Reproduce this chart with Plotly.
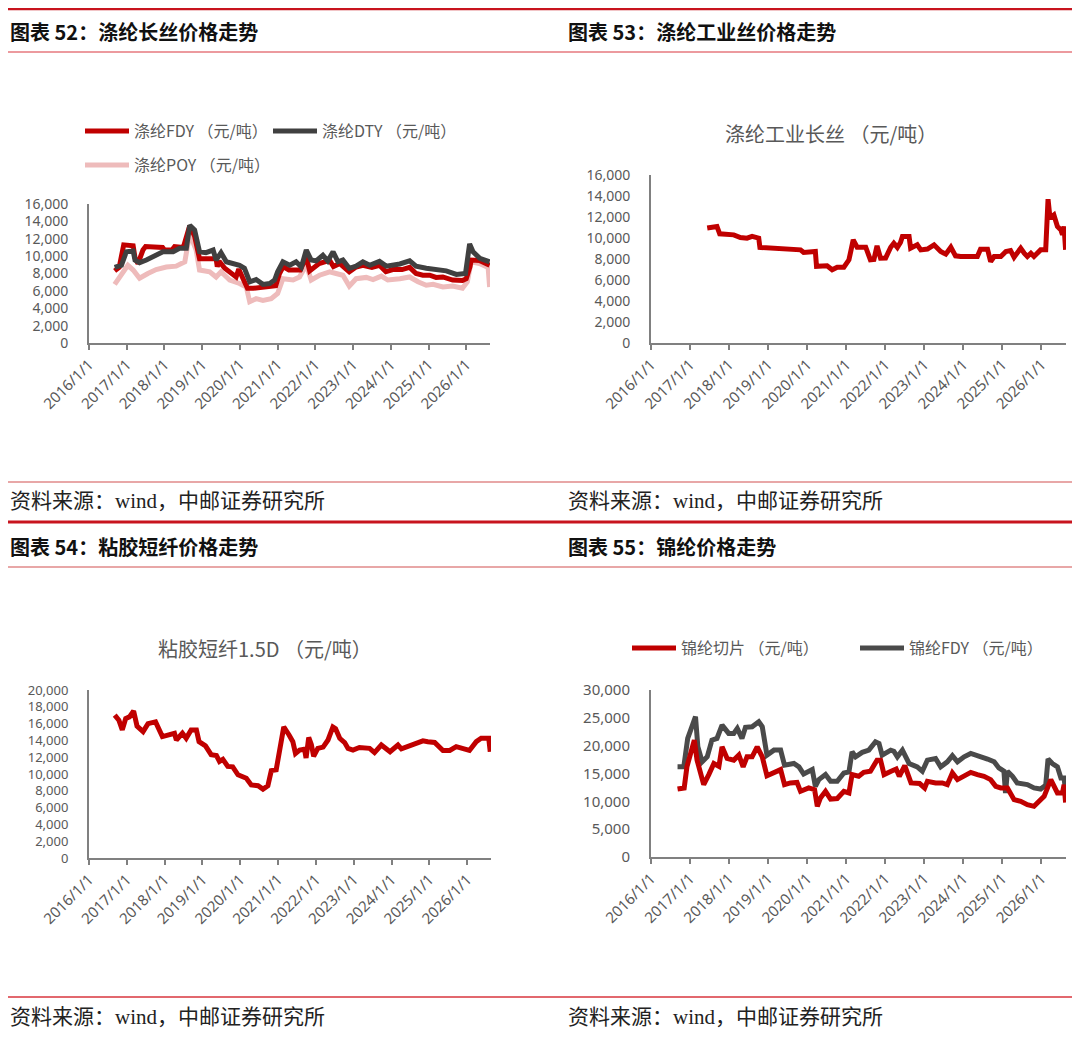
import plotly.graph_objects as go

# page has an 8px body margin, so the figure is 1064x1024 and coordinates are offset by 8
W, H, OFF = 1064, 1024, 8

# ---- data (decimal year, price in 元/吨) ----
tick_years = list(range(2016, 2027))
tick_text = [f"{y}/1/1" for y in tick_years]

# 图表52: 涤纶长丝
fdy_t = [2016.68, 2016.8, 2016.92, 2017.17, 2017.22, 2017.3, 2017.43, 2017.5, 2017.95, 2018.0, 2018.2, 2018.27,
         2018.5, 2018.67, 2018.8, 2018.93, 2019.37, 2019.4, 2019.45, 2019.6, 2019.9, 2019.97, 2020.2, 2020.35,
         2020.95, 2021.05, 2021.15, 2021.3, 2021.6, 2021.68, 2021.76, 2021.85, 2022.1, 2022.38, 2022.48, 2022.65,
         2022.8, 2022.9, 2023.08, 2023.26, 2023.5, 2023.7, 2023.87, 2024.05, 2024.3, 2024.5, 2024.67, 2024.85,
         2025.03, 2025.2, 2025.38, 2025.64, 2025.9, 2026.0, 2026.1, 2026.13, 2026.35, 2026.52, 2026.62]
fdy_v = [8300, 8700, 11300, 11200, 9800, 9150, 10700, 11100, 11000, 10700, 10700, 11100,
         11000, 13500, 12300, 9700, 9700, 8800, 9400, 8600, 7600, 8500, 6300, 6300,
         6600, 8000, 8800, 8400, 8400, 9150, 9900, 8300, 9150, 9500, 8800, 9150,
         8600, 8200, 8750, 8950, 8700, 8950, 8200, 8450, 8450, 8700, 8000, 7800,
         7800, 7550, 7600, 7250, 7200, 7400, 8800, 9550, 9500, 9150, 8950]

dty_t = [2016.68, 2016.86, 2016.99, 2017.17, 2017.22, 2017.34, 2017.52, 2017.7, 2017.96, 2018.23, 2018.4, 2018.58,
         2018.67, 2018.8, 2018.93, 2019.1, 2019.29, 2019.37, 2019.5, 2019.64, 2019.82, 2019.99, 2020.12, 2020.26,
         2020.43, 2020.61, 2020.79, 2020.92, 2021.0, 2021.14, 2021.32, 2021.49, 2021.63, 2021.76, 2021.89, 2022.02,
         2022.2, 2022.33, 2022.47, 2022.6, 2022.73, 2022.9, 2023.08, 2023.26, 2023.44, 2023.7, 2023.88, 2024.24,
         2024.5, 2024.67, 2024.94, 2025.2, 2025.47, 2025.74, 2025.98, 2026.09, 2026.18, 2026.36, 2026.52, 2026.62]
dty_v = [8700, 8950, 10500, 10600, 9550, 9250, 9550, 10000, 10500, 10500, 10900, 10900,
         13550, 13000, 10500, 10400, 10700, 9550, 10400, 9350, 9150, 8950, 8600, 7050,
         7300, 6750, 6850, 7250, 8200, 9350, 8950, 9350, 8750, 10700, 9550, 9450,
         10100, 9450, 10500, 9350, 9550, 8600, 8850, 9350, 8950, 9400, 8850, 9100,
         9450, 8850, 8600, 8400, 8300, 7900, 8000, 11400, 10500, 9750, 9550, 9350]

poy_t = [2016.68, 2016.86, 2017.03, 2017.17, 2017.34, 2017.56, 2017.78, 2018.05, 2018.31, 2018.54, 2018.67, 2018.84,
         2018.93, 2019.2, 2019.37, 2019.5, 2019.73, 2019.99, 2020.17, 2020.26, 2020.43, 2020.61, 2020.83, 2021.0,
         2021.14, 2021.41, 2021.58, 2021.76, 2021.89, 2022.11, 2022.38, 2022.55, 2022.73, 2022.9, 2023.08, 2023.35,
         2023.53, 2023.75, 2023.92, 2024.24, 2024.5, 2024.72, 2024.94, 2025.12, 2025.38, 2025.64, 2025.9, 2026.03,
         2026.13, 2026.35, 2026.52, 2026.58, 2026.62]
poy_v = [6750, 7800, 8950, 8400, 7450, 8000, 8450, 8750, 8850, 9350, 12600, 10700,
         8400, 8200, 7600, 8200, 7250, 6850, 6450, 4750, 5100, 4900, 5100, 5700,
         7400, 7250, 7600, 9000, 7250, 7800, 8200, 8000, 7800, 6550, 7400, 7550,
         7300, 7700, 7250, 7400, 7600, 7050, 6650, 6750, 6450, 6550, 6300, 7050,
         9350, 9150, 8750, 8700, 6450]

# 图表53: 涤纶工业长丝
ind_t = [2017.44, 2017.69, 2017.76, 2018.12, 2018.29, 2018.46, 2018.59, 2018.76, 2018.79, 2019.15, 2019.66, 2019.83,
         2019.91, 2020.21, 2020.24, 2020.51, 2020.64, 2020.77, 2020.94, 2021.07, 2021.18, 2021.28, 2021.5, 2021.62,
         2021.71, 2021.79, 2021.88, 2022.01, 2022.14, 2022.22, 2022.31, 2022.39, 2022.44, 2022.61, 2022.65, 2022.82,
         2022.91, 2023.08, 2023.25, 2023.42, 2023.55, 2023.68, 2023.8, 2023.93, 2024.36, 2024.44, 2024.62, 2024.7,
         2024.79, 2024.96, 2025.09, 2025.21, 2025.3, 2025.47, 2025.56, 2025.64, 2025.73, 2025.81, 2025.98, 2026.11,
         2026.17, 2026.22, 2026.32, 2026.41, 2026.5, 2026.54, 2026.58, 2026.62]
ind_v = [10950, 11100, 10400, 10300, 10050, 9980, 10150, 9980, 9100, 9030, 8930, 8870,
         8620, 8710, 7300, 7350, 6970, 7220, 7220, 7920, 9820, 9120, 9120, 7920,
         7950, 9250, 8080, 8100, 9120, 9500, 9100, 9570, 10150, 10150, 9030, 9350,
         8870, 8950, 9350, 8710, 8460, 9120, 8300, 8240, 8240, 8930, 8930, 7760,
         8240, 8240, 8710, 8810, 8170, 9030, 8550, 8240, 8550, 8240, 8870, 8870,
         13700, 11900, 12200, 11100, 10770, 10300, 11100, 8870]

# 图表54: 粘胶短纤1.5D
vsf_t = [2016.68, 2016.79, 2016.88, 2016.97, 2017.07, 2017.18, 2017.27, 2017.43, 2017.56, 2017.76, 2017.94, 2018.13,
         2018.26, 2018.31, 2018.47, 2018.57, 2018.7, 2018.84, 2018.91, 2019.08, 2019.23, 2019.37, 2019.45, 2019.54,
         2019.67, 2019.8, 2019.94, 2020.16, 2020.29, 2020.47, 2020.6, 2020.73, 2020.82, 2020.95, 2021.06, 2021.15,
         2021.29, 2021.39, 2021.46, 2021.57, 2021.7, 2021.74, 2021.81, 2021.88, 2021.94, 2022.05, 2022.19, 2022.32,
         2022.45, 2022.52, 2022.63, 2022.76, 2022.85, 2022.98, 2023.15, 2023.42, 2023.55, 2023.73, 2023.96, 2024.17,
         2024.26, 2024.43, 2024.61, 2024.83, 2024.96, 2025.14, 2025.36, 2025.54, 2025.71, 2025.98, 2026.06, 2026.24,
         2026.37, 2026.57, 2026.61]
vsf_v = [17000, 16400, 15250, 16600, 16800, 17500, 15700, 15050, 16000, 16200, 14450, 14650,
         14850, 14050, 14850, 14250, 15250, 15250, 13850, 13350, 12300, 12200, 11500, 11750,
         10900, 10850, 9900, 9500, 8700, 8600, 8200, 8600, 10400, 10500, 13650, 15600,
         14650, 13850, 12450, 12850, 12950, 11900, 14350, 13500, 12100, 13050, 13200, 14050,
         15600, 15400, 14250, 13750, 13050, 12850, 13150, 13050, 12550, 13450, 12650, 13450,
         13000, 13250, 13550, 13950, 13850, 13750, 12800, 12800, 13250, 12800, 12800, 13850,
         14250, 14250, 12650]

# 图表55: 锦纶
chip_t = [2016.68, 2016.85, 2016.92, 2017.03, 2017.11, 2017.18, 2017.35, 2017.48, 2017.61, 2017.74, 2017.82, 2017.95,
          2018.12, 2018.25, 2018.36, 2018.46, 2018.59, 2018.72, 2018.85, 2018.97, 2019.15, 2019.32, 2019.42, 2019.57,
          2019.74, 2019.83, 2020.04, 2020.19, 2020.26, 2020.34, 2020.47, 2020.6, 2020.77, 2020.94, 2021.07, 2021.15,
          2021.32, 2021.45, 2021.62, 2021.79, 2021.88, 2021.97, 2022.15, 2022.28, 2022.36, 2022.5, 2022.66, 2022.88,
          2023.01, 2023.08, 2023.29, 2023.46, 2023.59, 2023.72, 2023.85, 2024.02, 2024.19, 2024.36, 2024.53, 2024.7,
          2024.83, 2024.96, 2025.13, 2025.3, 2025.47, 2025.64, 2025.81, 2025.94, 2026.07, 2026.24, 2026.41, 2026.54,
          2026.58, 2026.62]
chip_v = [12200, 12400, 16200, 18900, 21000, 17400, 13000, 14800, 16800, 16300, 19800, 17700,
          17400, 18300, 16200, 18000, 18000, 19800, 18000, 14600, 15100, 15700, 13000, 13300,
          13400, 11800, 12400, 12100, 9100, 10600, 11800, 10400, 10500, 11800, 11500, 14800,
          14500, 15200, 15400, 17400, 17400, 14800, 15400, 15800, 14500, 16400, 13300, 13200,
          12400, 13600, 13300, 13300, 13000, 15100, 13900, 14500, 15200, 14800, 14500, 13900,
          12700, 12400, 12400, 10300, 10000, 9400, 9100, 10000, 10900, 13900, 11500, 11500,
          13000, 9800]

nfdy_t = [2016.68, 2016.84, 2016.94, 2017.03, 2017.14, 2017.2, 2017.31, 2017.44, 2017.56, 2017.69, 2017.82, 2017.99,
          2018.12, 2018.21, 2018.33, 2018.42, 2018.59, 2018.76, 2018.85, 2018.97, 2019.15, 2019.32, 2019.42, 2019.66,
          2019.79, 2019.91, 2020.13, 2020.21, 2020.3, 2020.47, 2020.6, 2020.77, 2020.94, 2021.07, 2021.15, 2021.24,
          2021.41, 2021.58, 2021.75, 2021.84, 2021.92, 2022.14, 2022.22, 2022.31, 2022.44, 2022.61, 2022.82, 2022.95,
          2023.08, 2023.29, 2023.42, 2023.59, 2023.72, 2023.85, 2024.02, 2024.19, 2024.4, 2024.62, 2024.79, 2024.91,
          2025.04, 2025.08, 2025.13, 2025.26, 2025.38, 2025.64, 2025.81, 2025.98, 2026.11, 2026.17, 2026.28, 2026.41,
          2026.5, 2026.58, 2026.62]
nfdy_v = [16200, 16200, 21300, 23100, 25200, 19800, 17100, 18000, 21000, 21300, 23700, 22200,
          22200, 23100, 21300, 23300, 23400, 24300, 23400, 18300, 19200, 19200, 16500, 16800,
          16200, 14900, 15700, 12700, 13900, 14800, 13600, 13600, 15100, 15300, 18900, 18000,
          18800, 19200, 20700, 20400, 18300, 19200, 19000, 18000, 19200, 16800, 16200, 15400,
          17400, 17700, 16200, 17100, 18200, 17100, 18000, 18600, 18200, 17600, 17100, 16000,
          15400, 11500, 15400, 14500, 13300, 13000, 12400, 12200, 12900, 17600, 16800, 16200,
          14200, 14200, 11800]

RED = "#c00000"
DARK = "#404040"
PINK = "#eebbbb"
GREY_TXT = "#595959"
AX = "#808080"
CJK = "Noto Sans CJK SC"
LW = 5


def px(x):
    return (x - OFF) / W


def py(y):
    return 1 - (y - OFF) / H


fig = go.Figure()

# panel 52
fig.add_trace(go.Scatter(x=poy_t, y=poy_v, name="涤纶POY （元/吨）", mode="lines",
                         line=dict(color=PINK, width=LW), xaxis="x", yaxis="y", legend="legend2"))
fig.add_trace(go.Scatter(x=fdy_t, y=fdy_v, name="涤纶FDY （元/吨）", mode="lines",
                         line=dict(color=RED, width=LW), xaxis="x", yaxis="y", legend="legend"))
fig.add_trace(go.Scatter(x=dty_t, y=dty_v, name="涤纶DTY （元/吨）", mode="lines",
                         line=dict(color=DARK, width=LW), xaxis="x", yaxis="y", legend="legend"))
# panel 53
fig.add_trace(go.Scatter(x=ind_t, y=ind_v, name="涤纶工业长丝", mode="lines", showlegend=False,
                         line=dict(color=RED, width=LW), xaxis="x2", yaxis="y2"))
# panel 54
fig.add_trace(go.Scatter(x=vsf_t, y=vsf_v, name="粘胶短纤1.5D", mode="lines", showlegend=False,
                         line=dict(color=RED, width=LW), xaxis="x3", yaxis="y3"))
# panel 55
fig.add_trace(go.Scatter(x=nfdy_t, y=nfdy_v, name="锦纶FDY （元/吨）", mode="lines",
                         line=dict(color="#4a4a4a", width=LW), xaxis="x4", yaxis="y4", legend="legend3"))
fig.add_trace(go.Scatter(x=chip_t, y=chip_v, name="锦纶切片 （元/吨）", mode="lines",
                         line=dict(color=RED, width=LW), xaxis="x4", yaxis="y4", legend="legend3"))

xtickfont = dict(family="Noto Sans, " + CJK, size=15, color=GREY_TXT)


def xax(x0, x1, anchor):
    return dict(domain=[px(x0), px(x1)], range=[2016, 2026.63], anchor=anchor,
                tickvals=tick_years, ticktext=tick_text, tickangle=-45,
                showline=True, linecolor=AX, linewidth=2, ticks="outside", ticklen=5,
                tickcolor=AX, tickwidth=1.5, showgrid=False, zeroline=False, tickfont=xtickfont,
                automargin=False)


def yax(y0, y1, top, step, anchor, fs=14):
    return dict(domain=[py(y0), py(y1)], range=[0, top], dtick=step, anchor=anchor,
                tickformat=",d", showline=True, linecolor=AX, linewidth=2, ticks="",
                showgrid=False, zeroline=False, ticklabelstandoff=16, automargin=False,
                tickfont=dict(family="Noto Sans, " + CJK, size=fs, color=GREY_TXT))


leg_font = dict(family=CJK, size=16, color=GREY_TXT)
fig.update_layout(
    width=W, height=H, margin=dict(l=0, r=0, t=0, b=0, autoexpand=False),
    paper_bgcolor="white", plot_bgcolor="white",
    xaxis=xax(89, 490, "y"), yaxis=yax(343, 204, 16000, 2000, "x"),
    xaxis2=xax(651, 1066, "y2"), yaxis2=yax(343, 175, 16000, 2000, "x2"),
    xaxis3=xax(89, 491, "y3"), yaxis3=yax(858, 690, 20000, 2000, "x3", fs=13),
    xaxis4=xax(651, 1066, "y4"), yaxis4=yax(857, 690, 30000, 5000, "x4", fs=15),
    legend=dict(x=px(80), y=py(131), xanchor="left", yanchor="middle", orientation="h",
                itemwidth=44, entrywidth=129, entrywidthmode="pixels", font=leg_font,
                bgcolor="rgba(0,0,0,0)"),
    legend2=dict(x=px(80), y=py(165), xanchor="left", yanchor="middle", orientation="h",
                 itemwidth=44, font=leg_font, bgcolor="rgba(0,0,0,0)"),
    legend3=dict(x=px(627), y=py(648), xanchor="left", yanchor="middle", orientation="h",
                 itemwidth=44, entrywidth=169, entrywidthmode="pixels", font=leg_font,
                 bgcolor="rgba(0,0,0,0)", traceorder="reversed"),
)

# header / footer rules
rules = [(9, 2.5, "#c8141e"), (52, 1.2, "#d9363e"), (482, 1.5, "#e08a8a"),
         (522, 3, "#c8141e"), (567, 1.5, "#e08a8a"), (997, 1.5, "#d9363e")]
for yy, wdt, col in rules:
    fig.add_shape(type="line", xref="paper", yref="paper", x0=0, x1=1, y0=py(yy), y1=py(yy),
                  line=dict(color=col, width=wdt))

titles = [(8, 31, "图表 52：涤纶长丝价格走势"), (566, 31, "图表 53：涤纶工业丝价格走势"),
          (8, 546, "图表 54：粘胶短纤价格走势"), (566, 546, "图表 55：锦纶价格走势")]
for xx, yy, txt in titles:
    fig.add_annotation(x=px(xx), y=py(yy), xref="paper", yref="paper", text=f"<b>{txt}</b>",
                       showarrow=False, xanchor="left", yanchor="middle",
                       font=dict(family=CJK, size=20, color="#111111"))

for xx, yy in [(8, 501), (566, 501), (8, 1017), (566, 1017)]:
    fig.add_annotation(x=px(xx), y=py(yy), xref="paper", yref="paper", text="资料来源：wind，中邮证券研究所",
                       showarrow=False, xanchor="left", yanchor="middle",
                       font=dict(family="Liberation Serif, " + CJK, size=21, color="#222222"))

for xx, yy, txt in [(831, 133, "涤纶工业长丝 （元/吨）"), (265, 648, "粘胶短纤1.5D （元/吨）")]:
    fig.add_annotation(x=px(xx), y=py(yy), xref="paper", yref="paper", text=txt,
                       showarrow=False, xanchor="center", yanchor="middle",
                       font=dict(family=CJK, size=20, color=GREY_TXT))

fig.write_html("out.html")
